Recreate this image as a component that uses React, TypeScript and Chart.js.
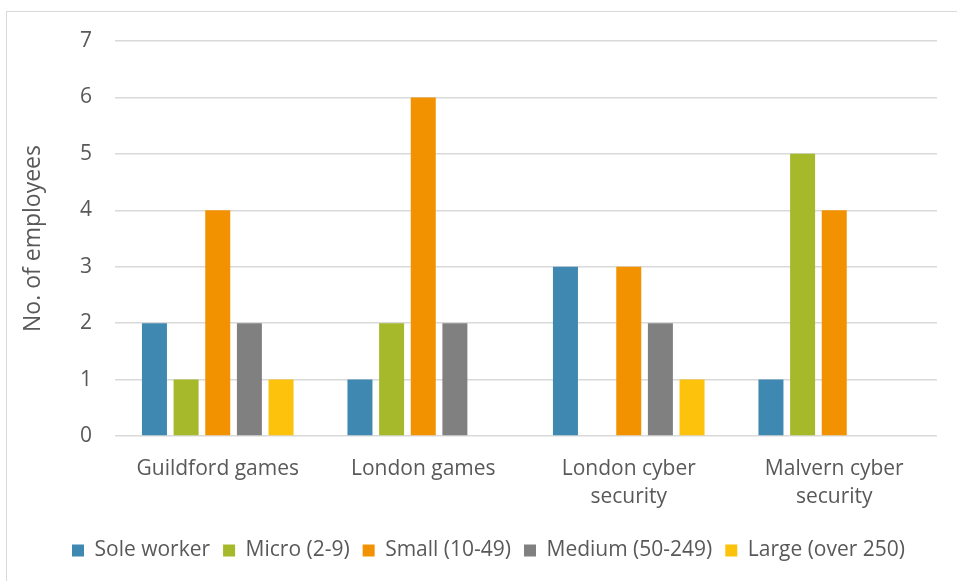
import React, { useEffect, useRef } from "react";
import { Chart, registerables } from "chart.js";

Chart.register(...registerables);

const categories: (string | string[])[] = [
  "Guildford games",
  "London games",
  ["London cyber", "security"],
  ["Malvern cyber", "security"],
];
const seriesNames = ["Sole worker", "Micro (2-9)", "Small (10-49)", "Medium (50-249)", "Large (over 250)"];
const soleWorker = [2, 1, 3, 1];
const micro = [1, 2, 0, 5];
const small = [4, 6, 3, 4];
const medium = [2, 2, 2, 0];
const large = [1, 0, 1, 0];
const seriesColors = ["#3F88B2", "#A5B92B", "#F39200", "#808080", "#FDC20B"];
const yMin = 0;
const yMax = 7;
const yStep = 1;
const yTitle = "No. of employees";

const FONT = "'Open Sans', 'Noto Sans', sans-serif";
const TEXT = "#595959";
const GRID = "#d9d9d9";

const legendShift = {
  id: "legendShift",
  afterLayout(chart: any) {
    const lg = chart.legend;
    if (lg) {
      lg.left += 20;
      lg.right += 20;
    }
  },
};

export default function App() {
  const ref = useRef<HTMLCanvasElement | null>(null);
  useEffect(() => {
    if (!ref.current) return;
    const values = [soleWorker, micro, small, medium, large];
    const chart = new Chart(ref.current, {
      type: "bar",
      data: {
        labels: categories,
        datasets: values.map((v, i) => ({
          label: seriesNames[i],
          data: v,
          backgroundColor: seriesColors[i],
          borderWidth: 0,
          barPercentage: 0.79,
          categoryPercentage: 0.77,
        })),
      },
      plugins: [legendShift],
      options: {
        responsive: false,
        animation: false,
        devicePixelRatio: 1,
        layout: { padding: { top: 41, right: 20, left: 0, bottom: 10 } },
        plugins: {
          tooltip: { enabled: false },
          legend: {
            position: "bottom",
            labels: {
              font: { family: FONT, size: 21 },
              color: TEXT,
              boxWidth: 12,
              boxHeight: 12,
              padding: 13,
            },
          },
        },
        scales: {
          x: {
            grid: { display: false },
            border: { display: false },
            afterFit: (scale: any) => {
              scale.height += 5;
            },
            ticks: {
              font: { family: FONT, size: 21, lineHeight: 1.38 },
              color: TEXT,
              padding: 10,
              maxRotation: 0,
              autoSkip: false,
            },
          },
          y: {
            min: yMin,
            max: yMax,
            afterFit: (scale: any) => {
              scale.width = 115;
            },
            grid: { color: GRID, lineWidth: 1.5, drawTicks: false },
            border: { display: false },
            ticks: {
              stepSize: yStep,
              font: { family: FONT, size: 21 },
              color: TEXT,
              padding: 23,
            },
            title: {
              display: true,
              text: yTitle,
              font: { family: FONT, size: 23 },
              color: TEXT,
              padding: { top: 20, bottom: 0 },
            },
          },
        },
      },
    });
    return () => chart.destroy();
  }, []);
  return (
    <div style={{ position: "fixed", left: 0, top: 0, width: 957, height: 581, background: "#fff", overflow: "hidden" }}>
      <canvas ref={ref} width={957} height={581} style={{ display: "block" }} />
      <div
        style={{
          position: "absolute",
          left: 6,
          top: 11,
          width: 1000,
          height: 700,
          borderTop: "1px solid #d9d9d9",
          borderLeft: "1px solid #d9d9d9",
          pointerEvents: "none",
        }}
      />
    </div>
  );
}
